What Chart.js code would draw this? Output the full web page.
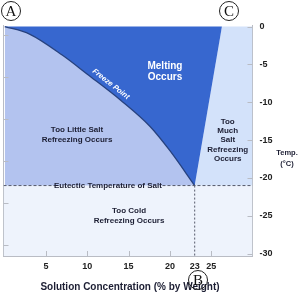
<!DOCTYPE html>
<html>
<head>
<meta charset="utf-8">
<script src="https://cdn.jsdelivr.net/npm/chart.js@4"></script>
<style>
    body { margin: 0; background: #fff; }
    #wrap { width: 299px; height: 297px; }
</style>
</head>
<body>
<div id="wrap"><canvas id="phaseChart" width="299" height="297"></canvas></div>
<script>
// === Data ===
const freezeConc = [0, 3, 7, 10, 14, 17.6, 20, 23];
const freezeTemp = [0, -1.0, -3.8, -6.3, -9.7, -13.2, -16.4, -21];
const saturationConc = [23, 26.3];
const saturationTemp = [-21, 0];
const eutecticTemp = -21;
const eutecticConc = 23;
const concTicks = [5, 10, 15, 20, 23, 25];
const tempTicks = [0, -5, -10, -15, -20, -25, -30];
const fahrenheitTicks = [30, 20, 10, 0, -10, -20];

const xMin = -0.15, xMax = 30;
const yMin = -30.3, yMax = 0.2;
const toF = c => c * 1.8 + 32;

const colors = {
    dark: '#3767cf',
    left: '#b3c3ef',
    right: '#d3e2fa',
    bottom: '#eef3fc',
    curve: '#27427f',
    dash: '#55596a',
    text: '#1c1e33',
    axis: '#b9bcc4'
};

const pts = (xs, ys) => xs.map((x, i) => ({ x, y: ys[i] }));
const curvePts = pts(freezeConc, freezeTemp);
const lastCurve = curvePts[curvePts.length - 1];

// === Custom drawing: inner ticks, labels, circled letters ===
const decorations = {
    id: 'decorations',
    afterDraw(chart) {
        const { ctx, chartArea: a, scales } = chart;
        const x = scales.x, y = scales.y, yF = scales.yF;
        ctx.save();
        ctx.strokeStyle = colors.axis;
        ctx.lineWidth = 1;
        ctx.beginPath();
        concTicks.filter(v => v !== eutecticConc).forEach(v => {
            const px = Math.round(x.getPixelForValue(v)) + 0.5;
            ctx.moveTo(px, a.bottom); ctx.lineTo(px, a.bottom - 5);
        });
        tempTicks.forEach(v => {
            const py = Math.round(y.getPixelForValue(v)) + 0.5;
            ctx.moveTo(a.right, py); ctx.lineTo(a.right - 5, py);
        });
        fahrenheitTicks.forEach(v => {
            const py = Math.round(yF.getPixelForValue(v)) + 0.5;
            ctx.moveTo(a.left, py); ctx.lineTo(a.left + 5, py);
        });
        ctx.stroke();

        const at = (cx, cy) => [x.getPixelForValue(cx), y.getPixelForValue(cy)];
        const label = (lines, cx, cy, font, color, lh) => {
            const [px, py] = at(cx, cy);
            ctx.font = font;
            ctx.fillStyle = color;
            ctx.textAlign = 'center';
            ctx.textBaseline = 'middle';
            lines.forEach((l, i) => ctx.fillText(l, px, py + (i - (lines.length - 1) / 2) * lh));
        };
        const bold8 = 'bold 8px "Liberation Sans", Arial, sans-serif';
        label(['Melting', 'Occurs'], 19.4, -6.0, 'bold 10px "Liberation Sans", Arial, sans-serif', '#ffffff', 11);
        label(['Too Little Salt', 'Refreezing Occurs'], 8.75, -14.3, bold8, colors.text, 10.5);
        label(['Too', 'Much', 'Salt', 'Refreezing', 'Occurs'], 27.0, -15.0, bold8, colors.text, 9.3);
        label(['Eutectic Temperature of Salt'], 12.5, eutecticTemp, bold8, colors.text, 10);
        label(['Too Cold', 'Refreezing Occurs'], 15.05, -25.0, bold8, colors.text, 10.5);

        // Freeze point text along the curve
        const [fx, fy] = at(12.85, -7.6);
        ctx.save();
        ctx.translate(fx, fy);
        ctx.rotate(38 * Math.PI / 180);
        ctx.font = 'italic bold 7.5px "Liberation Sans", Arial, sans-serif';
        ctx.fillStyle = '#ffffff';
        ctx.textAlign = 'center';
        ctx.textBaseline = 'middle';
        ctx.fillText('Freeze Point', 0, 0);
        ctx.restore();

        // Axis captions
        ctx.fillStyle = colors.text;
        ctx.textAlign = 'center';
        ctx.textBaseline = 'middle';
        ctx.font = 'bold 7.5px "Liberation Sans", Arial, sans-serif';
        ctx.fillText('Temp.', 287, 153);
        ctx.fillText('(\u00b0C)', 287, 164);
        ctx.font = 'bold 10px "Liberation Sans", Arial, sans-serif';
        ctx.fillText('Solution Concentration (% by Weight)', (a.left + a.right) / 2 + 2, 287);

        // Circled letters
        const circled = (ch, cx, cy, r) => {
            ctx.beginPath();
            ctx.arc(cx, cy, r, 0, Math.PI * 2);
            ctx.strokeStyle = '#222';
            ctx.lineWidth = 1;
            ctx.stroke();
            ctx.font = '15px "Liberation Serif", "DejaVu Serif", serif';
            ctx.fillStyle = '#111';
            ctx.fillText(ch, cx, cy + 1);
        };
        circled('A', 11, 11, 9.5);
        circled('C', 229, 11, 9.5);
        circled('B', 198, 280, 9.5);
        ctx.restore();
    }
};

new Chart(document.getElementById('phaseChart').getContext('2d'), {
    type: 'scatter',
    data: {
        datasets: [
            {
                // eutectic temperature, broken behind its label
                data: [{ x: xMin, y: eutecticTemp }, { x: 6.1, y: eutecticTemp }, { x: 6.2, y: null },
                       { x: 19.1, y: eutecticTemp }, { x: xMax, y: eutecticTemp }],
                showLine: true, spanGaps: false,
                borderColor: colors.dash, borderWidth: 1, borderDash: [3, 2],
                pointRadius: 0, fill: false, order: 0
            },
            {
                data: [{ x: eutecticConc, y: eutecticTemp }, { x: eutecticConc, y: yMin }],
                showLine: true,
                borderColor: colors.dash, borderWidth: 1, borderDash: [2, 2],
                pointRadius: 0, fill: false, order: 0
            },
            {
                // freeze point curve + "too little salt" region
                data: curvePts,
                showLine: true,
                cubicInterpolationMode: 'monotone',
                borderColor: colors.curve, borderWidth: 1.3,
                backgroundColor: colors.left,
                fill: { value: eutecticTemp },
                pointRadius: 0, order: 1
            },
            {
                // melting region (the part under the curve is covered by the region above)
                data: [curvePts[0], lastCurve, { x: saturationConc[1], y: saturationTemp[1] }],
                showLine: true,
                borderWidth: 0, borderColor: colors.dark,
                backgroundColor: colors.dark,
                fill: { value: 0 },
                pointRadius: 0, order: 2
            },
            {
                // too much salt region
                data: pts(saturationConc, saturationTemp).concat([{ x: xMax, y: 0 }]),
                showLine: true,
                borderWidth: 0,
                backgroundColor: colors.right,
                fill: { value: eutecticTemp },
                pointRadius: 0, order: 2
            },
            {
                // too cold region
                data: [{ x: xMin, y: eutecticTemp }, { x: xMax, y: eutecticTemp }],
                showLine: true,
                borderWidth: 0,
                backgroundColor: colors.bottom,
                fill: { value: yMin },
                pointRadius: 0, order: 3
            }
        ]
    },
    options: {
        responsive: false,
        animation: false,
        layout: { padding: { top: 25 } },
        plugins: { legend: { display: false }, tooltip: { enabled: false } },
        scales: {
            x: {
                type: 'linear', position: 'bottom',
                min: xMin, max: xMax,
                afterBuildTicks: s => { s.ticks = concTicks.map(v => ({ value: v })); },
                afterFit: s => { s.height = 41; },
                grid: { display: false, drawTicks: false },
                border: { display: true, color: colors.axis },
                ticks: {
                    color: '#222', padding: 5, autoSkip: false, maxRotation: 0,
                    font: { family: '"Liberation Sans", Arial, sans-serif', size: 9, weight: 'bold' }
                }
            },
            y: {
                type: 'linear', position: 'right',
                min: yMin, max: yMax,
                afterBuildTicks: s => { s.ticks = tempTicks.map(v => ({ value: v })); },
                afterFit: s => { s.width = 46.5; },
                grid: { display: false, drawTicks: false },
                border: { display: true, color: colors.axis },
                ticks: {
                    color: '#222', padding: 7,
                    font: { family: '"Liberation Sans", Arial, sans-serif', size: 9, weight: 'bold' }
                }
            },
            yF: {
                type: 'linear', position: 'left',
                min: toF(yMin), max: toF(yMax),
                afterBuildTicks: s => { s.ticks = fahrenheitTicks.map(v => ({ value: v })); },
                afterFit: s => { s.width = 3.5; },
                grid: { display: false, drawTicks: false },
                border: { display: true, color: colors.axis },
                ticks: { display: false }
            }
        }
    },
    plugins: [decorations]
});
</script>
</body>
</html>
